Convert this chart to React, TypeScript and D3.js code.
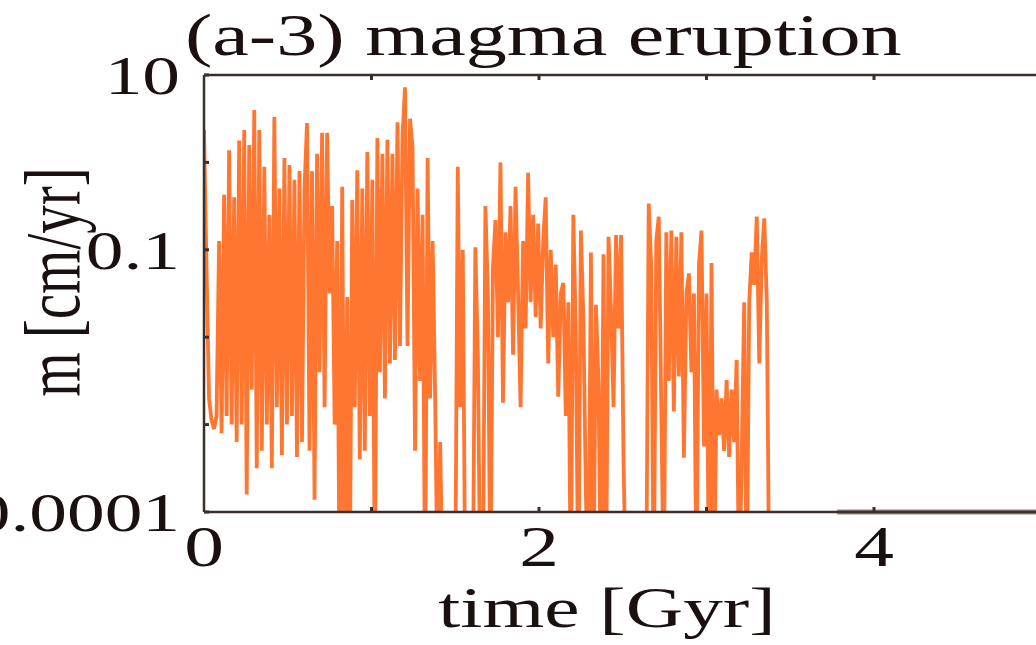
import React from "react";
import * as d3 from "d3";

// sampling step of the eruption-rate record [Gyr]
const DT = 0.015;
// log10 of eruption rate m [cm/yr] (values below -4 are clipped at the floor)
const logM: number[] = [
  0.37, -1.2, -2.7, -2.95, -3.05, -2.9, -0.9, -3.1, -0.37, -2.9,
  0.14, -3.0, -0.4, -3.2, 0.25, -3.0, 0.37, -3.8, 0.2, -2.6,
  0.6, -3.5, 0.37, -3.3, -0.05, -3.0, -0.6, -3.5, 0.52, -2.8,
  -0.3, -3.35, 0.05, -3.0, -0.03, -2.9, -0.2, -3.37,
  -0.1, -3.2, -0.3, 0.45, -3.3, -0.1, -3.86, 0.1, -2.4, 0.34,
  -2.8, 0.34, -1.5, -0.5, -3.0, -0.9, -5, -0.28, -5, -1.54,
  -5, -0.43, -2.8, -0.09, -3.4, -0.3, -3.3, 0.12, -2.9, -0.2,
  -5, 0.28, -2.4, 0.1, -2.7, 0.26, -2.3, 0.1, -2.26,
  0.46, -2.1, 0.3, 0.86, -2.1, 0.5, 0.18, -3.3, -0.3, -2.5,
  -0.6, -5, 0.05, -2.7, -0.9, -2.7, -5, -3.2,
  -5, -5, -5, -5, -5, -5, -0.05, -2.8, -1.0, -5,
  -5, -5, -5, -0.97, -2.2, -5, -5, -0.5, -1.5, -5,
  -1.2, -0.66, -2.0, 0.0, -2.75, -0.8, -1.6, -0.5, -2.2, -0.28,
  -1.5, -2.8, -0.9, -1.9, -0.12, -1.6, -0.6, -1.77, -0.7, -1.9,
  -0.9, -0.4, -2.3, -1.0, -2.0, -1.17, -2.68, -1.5, -1.38, -2.9,
  -1.6, -5, -0.6, -2.0, -5, -0.78, -1.8, -3.8,
  -5, -1.03, -5, -1.63, -2.5, -5, -1.05, -5, -0.85, -1.7,
  -2.8, -0.83, -1.9, -0.83, -3.45, -5,
  -5, -5, -5, -5, -5, -5, -5, -5,
  -0.47, -1.2, -5, -0.9, -0.62, -2.8, -5, -0.8, -2.5, -0.78,
  -2.85, -0.85, -2.45, -0.8,
  -3.38, -1.5, -1.27, -2.4, -1.5, -5, -1.17, -0.78, -3.25, -1.5,
  -5, -1.15, -5, -2.6, -3.12, -2.7, -3.3, -2.49, -3.37, -2.6,
  -3.2, -2.26, -5, -3.4, -1.6, -5, -1.6, -1.03, -1.4, -0.62,
  -2.3, -1.1, -0.64, -1.6, -5,
];

// later quiescent stage drawn at the floor value
const floorTimes = [3.78, 5.2];
const floorValues = [1e-4, 1e-4];

const yTickValues = [10, 1, 0.1, 0.01, 0.001, 0.0001];
const yTickLabels: Record<string, string> = { "10": "10", "0.1": "0.1", "0.0001": "0.0001" };
const xTickValues = [0, 1, 2, 3, 4, 5];
const xTickLabels: Record<string, string> = { "0": "0", "2": "2", "4": "4" };

const TITLE = "(a-3) magma eruption";
const XLABEL = "time [Gyr]";
const YLABEL = "m [cm/yr]";

const W = 1036;
const H = 645;
const L = 204;
const T = 75;
const B = 512;
const XMAX = 5;
const PX_PER_GYR = 167.5;
const SX = 1.37; // horizontal stretch of the glyphs
const AXIS = "#3b2f2b";
const FONT = "'Liberation Serif', 'Times New Roman', serif";
const INK = "#1a1010";

export default function App() {
  const x = d3.scaleLinear().domain([0, XMAX]).range([L, L + PX_PER_GYR * XMAX]);
  const y = d3.scaleLog().domain([1e-4, 10]).range([B, T]);
  const pts: [number, number][] = logM.map((v, i) => [i * DT, Math.pow(10, v)]);
  const line = d3
    .line<[number, number]>()
    .x((d) => x(d[0]))
    .y((d) => y(d[1]));
  const floorPts: [number, number][] = floorTimes.map((t, i) => [t, floorValues[i]]);
  const right = x(XMAX);

  return (
    <svg width={W} height={H} style={{ display: "block", position: "absolute", left: 0, top: 0, background: "#fff" }}>
      <defs>
        <clipPath id="plotclip">
          <rect x={L} y={T} width={right - L} height={B - T} />
        </clipPath>
      </defs>
      <rect x={0} y={0} width={W} height={H} fill="#fff" />
      <g clipPath="url(#plotclip)">
        <path d={line(pts) || ""} fill="none" stroke="#ff6c21" strokeWidth={3.8} strokeOpacity={0.93} strokeLinejoin="bevel" />
      </g>
      <path d={line(floorPts) || ""} fill="none" stroke="#8e8380" strokeWidth={5} />
      {/* frame */}
      <line x1={L} x2={right} y1={T} y2={T} stroke={AXIS} strokeWidth={2.5} />
      <line x1={L} x2={right} y1={B} y2={B} stroke={AXIS} strokeWidth={2.5} />
      <line x1={L} x2={L} y1={T} y2={B} stroke={AXIS} strokeWidth={2.5} />
      <line x1={right} x2={right} y1={T} y2={B} stroke={AXIS} strokeWidth={2.5} />
      {/* y ticks */}
      {yTickValues.map((v) => (
        <g key={"yt" + v}>
          <line x1={L} x2={L + 5} y1={y(v)} y2={y(v)} stroke={AXIS} strokeWidth={3} />
          {yTickLabels[String(v)] && (
            <text
              transform={`translate(${L - 24},${y(v) + 19}) scale(${SX},1)`}
              textAnchor="end"
              fontFamily={FONT}
              fontSize={55}
              fill={INK}
            >
              {yTickLabels[String(v)]}
            </text>
          )}
        </g>
      ))}
      {/* x ticks */}
      {xTickValues.map((v) => (
        <g key={"xt" + v}>
          {v > 0 && <line x1={x(v)} x2={x(v)} y1={B} y2={B - 5} stroke={AXIS} strokeWidth={3} />}
          {v > 0 && <line x1={x(v)} x2={x(v)} y1={T} y2={T + 5} stroke={AXIS} strokeWidth={3} />}
          {xTickLabels[String(v)] && (
            <text
              transform={`translate(${x(v)},${B + 54}) scale(${SX},1)`}
              textAnchor="middle"
              fontFamily={FONT}
              fontSize={58}
              fill={INK}
            >
              {xTickLabels[String(v)]}
            </text>
          )}
        </g>
      ))}
      {/* title */}
      <text transform={`translate(185,55) scale(${SX},1)`} fontFamily={FONT} fontSize={60} fill={INK}>
        {TITLE}
      </text>
      {/* x label */}
      <text transform={`translate(607,627) scale(${SX},1)`} textAnchor="middle" fontFamily={FONT} fontSize={58} fill={INK}>
        {XLABEL}
      </text>
      {/* y label */}
      <text transform={`translate(79,282) scale(${SX},1) rotate(-90)`} textAnchor="middle" fontFamily={FONT} fontSize={57} fill={INK}>
        {YLABEL}
      </text>
    </svg>
  );
}
